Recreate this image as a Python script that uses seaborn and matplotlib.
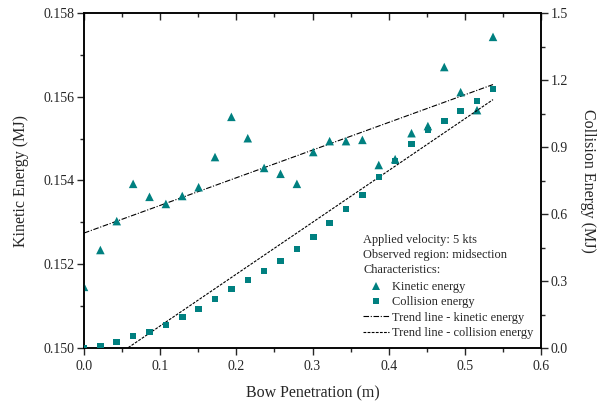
import numpy as np
import pandas as pd
import matplotlib
matplotlib.use("Agg")
import matplotlib.pyplot as plt
from matplotlib.lines import Line2D
from matplotlib.ticker import MultipleLocator
import seaborn as sns

# ---- data ----
penetration = [0.000, 0.0215, 0.043, 0.0645, 0.086, 0.1075, 0.129, 0.1505, 0.172,
               0.1935, 0.215, 0.2365, 0.258, 0.2795, 0.301, 0.3225, 0.344, 0.3655,
               0.387, 0.4085, 0.430, 0.4515, 0.473, 0.4945, 0.516, 0.537]
kinetic = [0.15146, 0.15234, 0.15303, 0.15392, 0.15361, 0.15344, 0.15363, 0.15384,
           0.15456, 0.15552, 0.15501, 0.15430, 0.15416, 0.15392, 0.15468, 0.15494,
           0.15494, 0.15497, 0.15437, 0.15451, 0.15513, 0.15530, 0.15671, 0.15611,
           0.15568, 0.15743]
collision = [0.000, 0.009, 0.027, 0.054, 0.072, 0.103, 0.139, 0.175, 0.219, 0.264,
             0.304, 0.345, 0.390, 0.443, 0.497, 0.560, 0.622, 0.685, 0.766, 0.837,
             0.913, 0.976, 1.016, 1.061, 1.106, 1.160]

df = pd.DataFrame({"x": penetration, "ke": kinetic, "ce": collision})

sns.set_style("ticks")
plt.rcParams["font.family"] = ["Liberation Serif", "DejaVu Serif"]
plt.rcParams["mathtext.fontset"] = "stix"

teal = "#008080"
W, H = 608, 403
fig = plt.figure(figsize=(W / 100, H / 100), dpi=100)
L, R, T, B = 84, 541, 13, 348
ax = fig.add_axes([L / W, 1 - B / H, (R - L) / W, (B - T) / H])
ax2 = ax.twinx()

ke_ls = (0, (5, 1.5, 1, 1.5))
ce_ls = (0, (2.5, 1.2))

sns.scatterplot(data=df, x="x", y="ke", ax=ax, marker="^", color=teal,
                s=38, edgecolor="none", zorder=3, legend=False)
sns.regplot(data=df, x="x", y="ke", ax=ax, scatter=False, ci=None, truncate=True,
            line_kws=dict(color="black", lw=0.8, ls=ke_ls))

sns.scatterplot(data=df, x="x", y="ce", ax=ax2, marker="s", color=teal,
                s=22, edgecolor="none", zorder=3, legend=False)
sns.regplot(data=df, x="x", y="ce", ax=ax2, scatter=False, ci=None, truncate=True,
            line_kws=dict(color="black", lw=0.8, ls=ce_ls))

ax.set_xlim(0, 0.6)
ax.set_ylim(0.150, 0.158)
ax2.set_ylim(0, 1.5)

fs_tick = 10
ax.xaxis.set_major_locator(MultipleLocator(0.1))
ax.xaxis.set_minor_locator(MultipleLocator(0.05))
ax.yaxis.set_major_locator(MultipleLocator(0.002))
ax.yaxis.set_minor_locator(MultipleLocator(0.001))
ax2.yaxis.set_major_locator(MultipleLocator(0.3))
ax2.yaxis.set_minor_locator(MultipleLocator(0.15))
ax.set_xticklabels([f"{v:.1f}" for v in ax.get_xticks()])
ax.set_yticklabels([f"{v:.3f}" for v in ax.get_yticks()])
ax2.set_yticklabels([f"{v:.1f}" for v in ax2.get_yticks()])

ax.tick_params(axis="both", which="major", direction="out", length=5, width=1,
               labelsize=fs_tick, pad=2)
ax.tick_params(axis="x", which="major", pad=3.5)
ax.tick_params(axis="both", which="minor", direction="out", length=3, width=1)
ax.tick_params(axis="x", which="both", top=True, labeltop=False)
for t in ax.xaxis.get_major_ticks() + ax.xaxis.get_minor_ticks():
    t.tick2line.set_marker(3)  # inward ticks on top
ax2.tick_params(axis="y", which="major", direction="out", length=5, width=1,
                labelsize=fs_tick, pad=2)
ax2.tick_params(axis="y", which="minor", direction="out", length=3, width=1)

for a in (ax, ax2):
    for s in a.spines.values():
        s.set_visible(True)
        s.set_linewidth(1.1)
        s.set_color("black")

fs_lab = 11.5
ax.set_xlabel("Bow Penetration (m)", fontsize=fs_lab, labelpad=9)
ax.set_ylabel("Kinetic Energy (MJ)", fontsize=fs_lab, labelpad=10)
ax2.set_ylabel("Collision Energy (MJ)", fontsize=fs_lab, rotation=270, labelpad=20)

# ---- legend block ----
fs_leg = 8.9
hdr = ["Applied velocity: 5 kts", "Observed region: midsection", "Characteristics:"]
for i, t in enumerate(hdr):
    fig.text(363 / W, 1 - (240 + 15 * i) / H, t, fontsize=fs_leg, va="center", ha="left")

handles = [
    Line2D([], [], marker="^", color=teal, ls="none", markersize=5.5, markeredgewidth=0),
    Line2D([], [], marker="s", color=teal, ls="none", markersize=4.2, markeredgewidth=0),
    Line2D([], [], color="black", lw=0.8, ls=ke_ls),
    Line2D([], [], color="black", lw=0.8, ls=ce_ls),
]
labels = ["Kinetic energy", "Collision energy", "Trend line - kinetic energy",
          "Trend line - collision energy"]
leg = ax.legend(handles, labels, loc="upper left",
                bbox_to_anchor=(363 / W, 1 - 281 / H), bbox_transform=fig.transFigure,
                frameon=False, fontsize=fs_leg, handlelength=2.1, handletextpad=0.25,
                labelspacing=0.27, borderpad=0, borderaxespad=0)

fig.savefig("out.png", dpi=100)
